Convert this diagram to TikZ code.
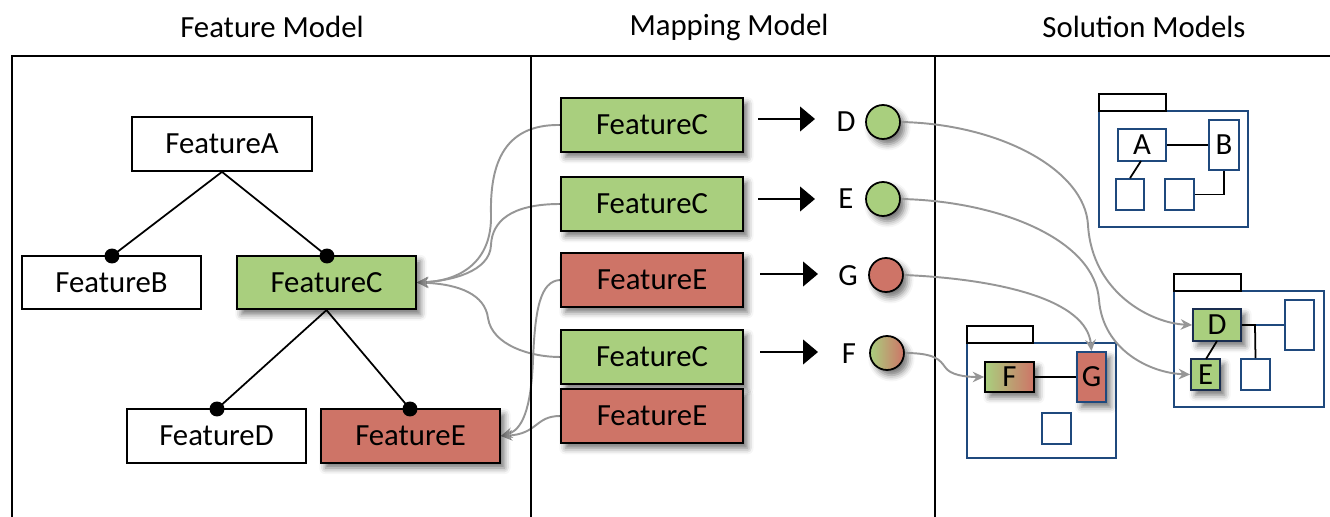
\documentclass[tikz,border=0pt]{standalone}
\usepackage{fontspec}
\setmainfont{Carlito}
\usetikzlibrary{arrows.meta,shadows.blur}
\definecolor{cgreen}{RGB}{169,207,126}
\definecolor{cred}{RGB}{206,116,103}
\definecolor{cblue}{RGB}{31,73,125}
\definecolor{cnavy}{RGB}{25,45,80}
\definecolor{cgray}{RGB}{150,150,150}
\pgfdeclarelayer{bg}
\pgfsetlayers{bg,main}
\tikzset{
 lbl/.style={font=\fontsize{17.5}{20}\selectfont},
 shd/.style={blur shadow={shadow xshift=2.5pt, shadow yshift=-3pt, shadow blur radius=3.5pt, shadow opacity=55}},
 fbox/.style={draw, line width=1pt, minimum width=3.58cm, minimum height=1.07cm, inner sep=0pt, lbl},
 gbox/.style={fbox, fill=cgreen, shd},
 rbox/.style={fbox, fill=cred, shd},
 mwide/.style={minimum width=3.64cm, minimum height=1.08cm},
 fdot/.style={circle, fill, inner sep=0pt, minimum size=0.3cm},
 tree/.style={line width=1pt},
 ball/.style={circle, draw, line width=1pt, minimum size=0.68cm, inner sep=0pt, shd},
 maparrow/.style={line width=1.1pt, -{Triangle[length=8.5pt,width=14pt]}},
 link/.style={cgray, line width=1.1pt, -{Stealth[length=6.5pt,width=6pt]}},
 pkgbody/.style={draw=cblue, line width=1pt},
 pkgtab/.style={draw, line width=1pt, fill=white},
 sbox/.style={draw=cblue, line width=1pt, fill=white, inner sep=0pt, lbl},
 frameline/.style={line width=1.2pt},
 title/.style={lbl},
}
\begin{document}
\begin{tikzpicture}[x=0.02cm,y=-0.02cm]
\useasboundingbox (0,0) rectangle (1330,517);

% titles
\node[title] (t1) at (272,27) {Feature Model};
\node[title] (t2) at (729,27) {Mapping Model};
\node[title] (t3) at (1144,27) {Solution Models};

% feature model
\node[fbox, minimum width=3.6cm, minimum height=1.08cm] (fA) at (222,144) {FeatureA};
\node[fbox] (fB) at (111.5,282.5) {FeatureB};
\node[gbox] (fC) at (326.5,282.5) {FeatureC};
\node[fbox] (fD) at (216.5,436) {FeatureD};
\node[rbox] (fE) at (410.5,436) {FeatureE};
\node[fdot] (dB) at (112,256) {};
\node[fdot] (dC) at (327,256) {};
\node[fdot] (dD) at (217,409) {};
\node[fdot] (dE) at (410,409) {};
\draw[tree] (fA.south) -- (dB.center);
\draw[tree] (fA.south) -- (dC.center);
\draw[tree] (fC.south) -- (dD.center);
\draw[tree] (fC.south) -- (dE.center);

% mapping model
\node[gbox, mwide] (mC1) at (652,125) {FeatureC};
\node[gbox, mwide] (mC2) at (652,204) {FeatureC};
\node[rbox, mwide] (mE1) at (652,280) {FeatureE};
\node[gbox, mwide] (mC3) at (652,357) {FeatureC};
\node[rbox, mwide] (mE2) at (652,416) {FeatureE};

\coordinate (a1s) at (758,119); \coordinate (a1e) at (815,119);
\coordinate (a2s) at (758,199); \coordinate (a2e) at (815,199);
\coordinate (a3s) at (760,274); \coordinate (a3e) at (818,274);
\coordinate (a4s) at (760,352); \coordinate (a4e) at (818,352);
\draw[maparrow] (a1s) -- (a1e);
\draw[maparrow] (a2s) -- (a2e);
\draw[maparrow] (a3s) -- (a3e);
\draw[maparrow] (a4s) -- (a4e);

\node[lbl] (lD) at (846,122) {D};
\node[lbl] (lE) at (846,199) {E};
\node[lbl] (lG) at (848,276) {G};
\node[lbl] (lF) at (849,354) {F};

\node[ball, fill=cgreen] (cD) at (883,122) {};
\node[ball, fill=cgreen] (cE) at (883,199) {};
\node[ball, fill=cred] (cG) at (886,275) {};
\node[ball, shading=axis, left color=cgreen, right color=cred] (cF) at (887,353) {};

% solution models: package 1
\draw[pkgbody] (1099,111) rectangle (1248,227);
\draw[pkgtab] (1099,94) rectangle (1166,111);
\node[sbox, minimum width=0.96cm, minimum height=0.64cm] (pA) at (1142,145) {A};
\node[sbox, minimum width=0.6cm, minimum height=1.0cm] (pB) at (1224,145) {B};
\node[sbox, minimum width=0.56cm, minimum height=0.62cm] (ps1) at (1130,194.5) {};
\node[sbox, minimum width=0.58cm, minimum height=0.62cm] (ps2) at (1179.5,194.5) {};
\draw[tree] (pA.east) -- (pB.west |- pA.east);
\draw[tree] (1141,161) -- (ps1.north);
\draw[tree] (pB.south) |- (ps2.east);

% package 2
\draw[pkgbody] (1174,291) rectangle (1324,407);
\draw[pkgtab] (1174,274) rectangle (1241,291);
\node[sbox, draw=cnavy, fill=cgreen, shd, minimum width=0.96cm, minimum height=0.64cm] (pD) at (1217,325) {D};
\node[sbox, draw=cnavy, fill=cgreen, shd, minimum width=0.58cm, minimum height=0.62cm] (pE) at (1205.5,374.5) {E};
\node[sbox, minimum width=0.58cm, minimum height=1.0cm] (pT) at (1299.5,325) {};
\node[sbox, minimum width=0.58cm, minimum height=0.62cm] (ps3) at (1255.5,374.5) {};
\coordinate (j) at (1255,325);
\draw[cblue, line width=1pt] (j) -- (pT.west);
\draw[tree] (pD.east) -- (j) -- (ps3.north);
\draw[tree] (1217,341) -- (1206,359);

% package 3
\draw[pkgbody] (967,343) rectangle (1116,458);
\draw[pkgtab] (967,326) rectangle (1033,343);
\node[sbox, draw=black, shading=axis, left color=cgreen, right color=cred, shd, minimum width=0.98cm, minimum height=0.6cm] (pF) at (1009.5,377) {F};
\node[sbox, fill=cred, shd, minimum width=0.58cm, minimum height=1.0cm] (pG) at (1091.5,377) {G};
\node[sbox, minimum width=0.58cm, minimum height=0.62cm] (ps4) at (1056.5,428.5) {};
\draw[tree] (pF.east) -- (pG.west);

% links into the solution models
\draw[link] (cD.east) .. controls (1000,124) and (1085,170) .. (1088,225) .. controls (1092,292) and (1150,323) .. (pD.west);
\draw[link] (cE.east) .. controls (1000,201) and (1095,240) .. (1099,300) .. controls (1103,350) and (1150,373) .. (pE.west);
\draw[link] (cG.east) .. controls (1000,279) and (1087,300) .. (pG.north);
\draw[link] (cF.east) .. controls (935,353) and (940,360) .. (945,367) .. controls (950,375) and (965,377) .. (pF.west);

% background: links and frame
\begin{pgfonlayer}{bg}
\draw[link] (mC1.west) .. controls (500,124) and (490,170) .. (491,215) .. controls (492,262) and (460,281) .. (fC.east);
\draw[link] (mC2.west) .. controls (510,204) and (492,222) .. (491,245) .. controls (490,272) and (450,281) .. (fC.east);
\draw[link] (mC3.west) .. controls (530,357) and (492,345) .. (488,318) .. controls (485,295) and (460,284) .. (fC.east);
\draw[link] (mE1.west) .. controls (540,281) and (535,310) .. (533,360) .. controls (531,410) and (522,430) .. (fE.east);
\draw[link] (mE2.west) .. controls (535,416) and (538,434) .. (fE.east);
\draw[frameline] (12,517) -- (12,56) -- (1330,56);
\draw[frameline] (531,56) -- (531,517);
\draw[frameline] (935,56) -- (935,517);
\end{pgfonlayer}
\end{tikzpicture}
\end{document}
